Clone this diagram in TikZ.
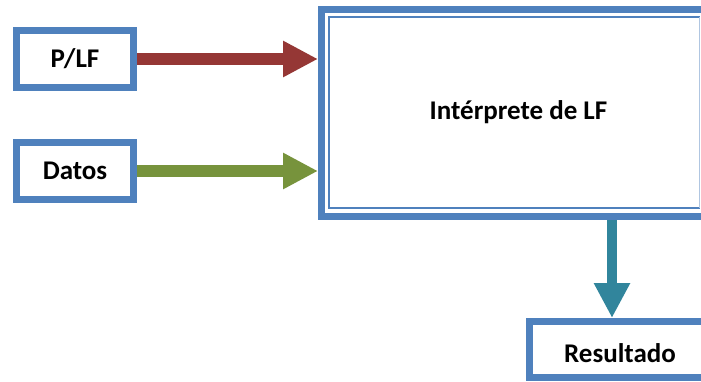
\documentclass[tikz,border=0pt]{standalone}
\usepackage{fontspec}
\setmainfont{Carlito}
\usetikzlibrary{arrows.meta}

\definecolor{boxblue}{HTML}{4F81BD}
\definecolor{arrowred}{HTML}{953735}
\definecolor{arrowgreen}{HTML}{77933C}
\definecolor{arrowteal}{HTML}{31859C}

\tikzset{
  block/.style={rectangle, draw=boxblue, fill=white, line width=7pt,
    outer sep=3.5pt, inner sep=0pt},
  openblock/.style={rectangle, outer sep=3.5pt, inner sep=0pt},
  frame/.style={draw=boxblue, line width=7pt},
  textfont/.style={font=\fontsize{27}{30}\selectfont\bfseries},
  flow/.style={line width=12pt, -{Triangle[length=35pt,width=34pt]}},
}

\begin{document}
\begin{tikzpicture}[x=1pt,y=-1pt]
  \path[use as bounding box] (0,0) rectangle (701,381);

  % input boxes
  \node[block, textfont, minimum width=117pt, minimum height=57pt] (plf) at (75,59) {P/LF};
  \node[block, textfont, minimum width=117pt, minimum height=57pt] (datos) at (75,171) {Datos};

  % interpreter: cut off by the right edge, so its frame is open there
  \node[openblock, anchor=west, minimum width=376pt, minimum height=207pt] (interp) at (318,113) {};
  \draw[frame] ([yshift=-3.5pt]interp.north east) -- ([xshift=3.5pt,yshift=-3.5pt]interp.north west)
    -- ([xshift=3.5pt,yshift=3.5pt]interp.south west) -- ([yshift=3.5pt]interp.south east);
  \draw[boxblue, line width=1.5pt]
    ([xshift=-1.5pt,yshift=-11pt]interp.north east) -- ([xshift=11pt,yshift=-11pt]interp.north west)
    -- ([xshift=11pt,yshift=12pt]interp.south west) -- ([xshift=-1.5pt,yshift=12pt]interp.south east);
  \draw[boxblue!45, line width=1pt]
    ([xshift=-1.5pt,yshift=-11pt]interp.north east) -- ([xshift=-1.5pt,yshift=12pt]interp.south east);
  \node[textfont] (title) at (518.5,112) {Intérprete de LF};

  % output box: cut off by the right and bottom edges
  \node[openblock, anchor=north west, minimum width=168pt, minimum height=56pt] (res) at (526,318) {};
  \draw[frame] ([yshift=-3.5pt]res.north east) -- ([xshift=3.5pt,yshift=-3.5pt]res.north west)
    -- ([xshift=3.5pt,yshift=3.5pt]res.south west) -- ([yshift=3.5pt]res.south east);
  \node[textfont] (restext) at (620,353) {Resultado};

  % connectors
  \draw[flow, arrowred] (plf.east) -- (plf.east -| interp.west);
  \draw[flow, arrowgreen] (datos.east) -- (datos.east -| interp.west);
  \draw[flow, arrowteal, line width=10pt]
    (restext.north |- interp.south) ++(-8,0) coordinate (tealtop)
    (tealtop) -- (tealtop |- res.north);
\end{tikzpicture}
\end{document}
